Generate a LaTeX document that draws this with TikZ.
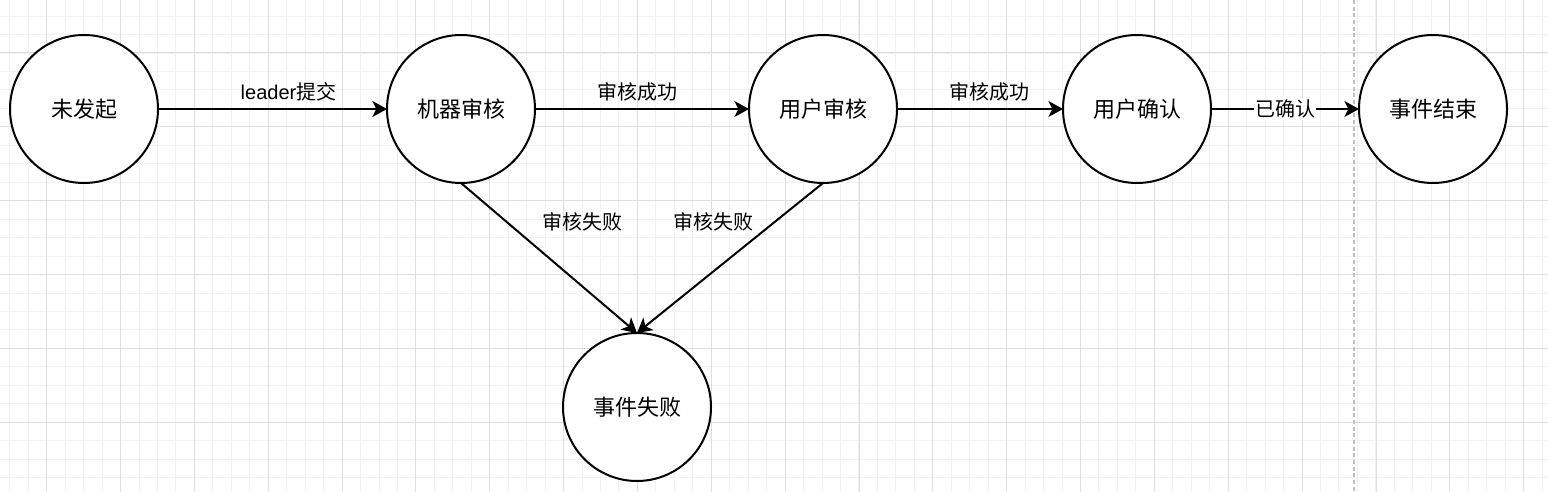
\documentclass[tikz,border=0pt]{standalone}
\usepackage{fontspec}
\setmainfont{Liberation Sans}
\newfontfamily\cjk{Noto Sans CJK SC}
\newfontfamily\lat{Liberation Sans}
\usetikzlibrary{arrows.meta}
\usetikzlibrary{positioning}
\tikzset{
    stat/.style={
           circle,
           draw=black, line width=1.5pt,
           fill=white,
           minimum size=111pt,
           inner sep=0pt, outer sep=0pt,
           font=\fontsize{16.5}{18}\cjk,
           },
    lbl/.style={font=\fontsize{15}{17}\cjk, inner sep=1pt},
    gridminor/.style={draw=black!5, line width=0.75pt},
    gridmajor/.style={draw=black!13, line width=0.75pt},
}

\begin{document}
\begin{tikzpicture}[x=0.75pt,y=-0.75pt,->,>={Stealth[length=11pt,width=12pt,inset=3pt]}, line width=1.5pt]
        % background grid
        \fill[white] (0,0) rectangle (1548,492);
        \useasboundingbox (0,0) rectangle (1548,492);
        \foreach \i in {0,...,83} \draw[-,gridminor] ({9.8+18.46*\i},0) -- ({9.8+18.46*\i},492);
        \foreach \j in {0,...,26} \draw[-,gridminor] (0,{16.1+18.46*\j}) -- (1548,{16.1+18.46*\j});
        \foreach \i in {0,...,20} \draw[-,gridmajor] ({46.7+73.85*\i},0) -- ({46.7+73.85*\i},492);
        \foreach \j in {0,...,5} \draw[-,gridmajor] (0,{53+73.85*\j}) -- (1548,{53+73.85*\j});
        \draw[-,draw=black!25, line width=1.1pt, dash pattern=on 3pt off 2pt] (1354,0) -- (1354,492);

        \node[stat] (start) at (84,109) {未发起};
        \node[stat, right=171.75pt of start] (mach) {机器审核};
        \node[stat, right=160.5pt of mach] (user) {用户审核};
        \node[stat, right=124.5pt of user] (conf) {用户确认};
        \node[stat, right=111pt of conf] (done) {事件结束};
        \node[stat] (fail) at (637,407) {事件失败};

        \path (start) edge node[lbl, above, yshift=4pt, pos=0.57] {{\lat leader}提交} (mach)
        (mach) edge node[lbl, above, yshift=4pt, pos=0.48] {审核成功} (user)
        (user) edge node[lbl, above, yshift=4pt, pos=0.56] {审核成功} (conf)
        (conf) edge node[lbl, fill=white, pos=0.5] {已确认} (done)
        (mach.south) edge node[lbl, pos=0.26, xshift=57pt] {审核失败} (fail.north)
        (user.south) edge node[lbl, pos=0.26, xshift=-45.5pt] {审核失败} (fail.north)
        ;
    \end{tikzpicture}
\end{document}
